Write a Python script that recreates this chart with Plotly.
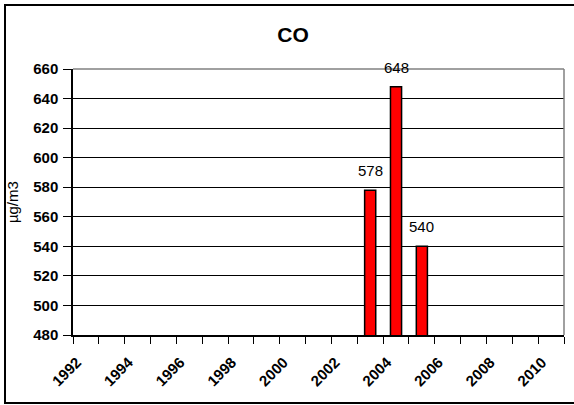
import plotly.graph_objects as go

# CO concentration by year
years = list(range(1992, 2011))
obs_years = [2003, 2004, 2005]
co_values = [578, 648, 540]
label_years = list(range(1992, 2011, 2))
y_ticks = list(range(480, 661, 20))

FONT = "Liberation Sans, Arial, sans-serif"

fig = go.Figure()
fig.add_trace(go.Bar(
    x=obs_years,
    y=co_values,
    width=0.43,
    marker=dict(color="#FF0000", line=dict(color="black", width=1.5)),
    cliponaxis=False,
    showlegend=False,
))

# value labels above each bar
for yr, v in zip(obs_years, co_values):
    fig.add_annotation(
        x=yr, y=v, text=str(v), showarrow=False,
        yanchor="bottom", yshift=9,
        font=dict(family=FONT, size=15, color="black"),
    )

# y axis title
fig.add_annotation(
    xref="paper", yref="paper", x=-0.124, y=0.5,
    text="µg/m3", textangle=-90, showarrow=False,
    xanchor="center", yanchor="middle",
    font=dict(family=FONT, size=15, color="black"),
)

# plot-area border (top and right edges in grey)
fig.add_shape(type="line", xref="paper", yref="paper", x0=0, x1=1, y0=1, y1=1,
              line=dict(color="#808080", width=1.5), layer="above")
fig.add_shape(type="line", xref="paper", yref="paper", x0=1, x1=1, y0=0, y1=1,
              line=dict(color="#808080", width=1.5), layer="above")

# outer chart frame
fig.add_shape(type="rect", xref="paper", yref="paper",
              x0=(5 - 73) / 491, x1=(580 - 73) / 491,
              y0=(335 - 403) / 266, y1=(335 - 5) / 266,
              line=dict(color="black", width=2), layer="above")

fig.update_layout(
    width=574, height=405,
    margin=dict(l=73, r=10, t=69, b=70),
    paper_bgcolor="white", plot_bgcolor="white",
    title=dict(text="<b>CO</b>", x=293 / 574, xanchor="center",
               y=(405 - 35) / 405, yanchor="middle",
               font=dict(family=FONT, size=21, color="black")),
    font=dict(family=FONT, color="black"),
)

fig.update_xaxes(
    range=[min(years) - 0.5, max(years) + 0.5],
    tickmode="array", tickvals=label_years,
    ticktext=[str(y) for y in label_years],
    tickangle=-45, ticks="",
    ticklabelstandoff=11, ticklabelshift=-9,
    tickfont=dict(family=FONT, size=15, color="black", weight="bold"),
    showgrid=False, showline=True, linecolor="black", linewidth=1.5,
    minor=dict(ticks="outside", tick0=min(years) - 0.5, dtick=1,
               ticklen=7, tickcolor="black", tickwidth=1, showgrid=False),
    zeroline=False,
)

fig.update_yaxes(
    range=[480, 660],
    tickmode="array", tickvals=y_ticks,
    ticks="outside", ticklen=8, tickcolor="black",
    ticklabelstandoff=2,
    tickfont=dict(family=FONT, size=15, color="black", weight="bold"),
    showgrid=True, gridcolor="black", gridwidth=1,
    showline=True, linecolor="black", linewidth=1.5,
    zeroline=False,
)

fig.write_html("out.html")
